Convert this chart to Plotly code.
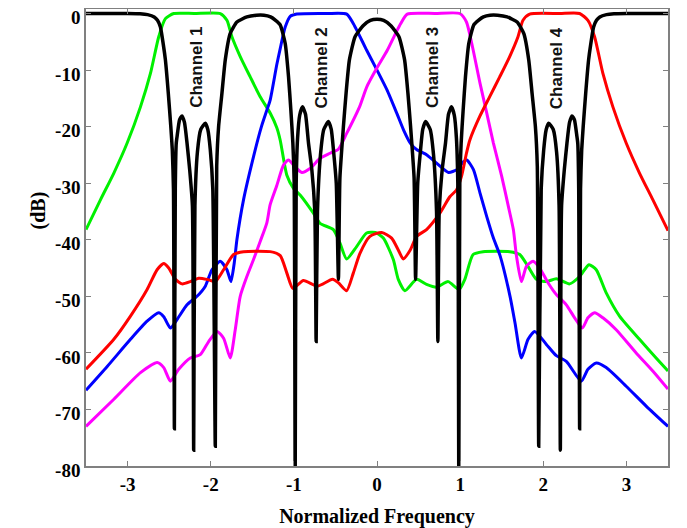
import plotly.graph_objects as go

# ---- data ----
black_x = [-3.5, -3.0, -2.85, -2.76, -2.68, -2.64, -2.605, -2.57, -2.545, -2.51, -2.48, -2.462, -2.448,
           -2.437, -2.426, -2.415, -2.405, -2.375, -2.345, -2.315, -2.285, -2.253, -2.22, -2.205, -2.19,
           -2.16, -2.12, -2.065, -2.035, -2.005, -1.975, -1.945, -1.928, -1.905, -1.865, -1.825, -1.765,
           -1.685, -1.565, -1.45, -1.36, -1.28, -1.22, -1.164, -1.104, -1.064, -1.036, -1.012, -0.996,
           -0.984, -0.972, -0.955, -0.93, -0.896, -0.86, -0.824, -0.784, -0.748, -0.732, -0.716, -0.68,
           -0.64, -0.584, -0.55, -0.524, -0.49, -0.464, -0.446, -0.404, -0.372, -0.332, -0.264, -0.164,
           -0.08, 0.0,
           0.08, 0.164, 0.264, 0.332, 0.372, 0.404, 0.446, 0.464, 0.49, 0.524, 0.55, 0.584, 0.64, 0.68,
           0.716, 0.732, 0.748, 0.784, 0.824, 0.86, 0.896, 0.93, 0.955, 0.972, 0.984, 0.996, 1.012, 1.036,
           1.064, 1.104, 1.164, 1.22, 1.28, 1.36, 1.45, 1.565, 1.685, 1.765, 1.825, 1.865, 1.905, 1.928,
           1.945, 1.975, 2.005, 2.035, 2.065, 2.12, 2.16, 2.19, 2.205, 2.22, 2.253, 2.285, 2.315, 2.345,
           2.375, 2.405, 2.415, 2.426, 2.437, 2.448, 2.462, 2.48, 2.51, 2.545, 2.57, 2.605, 2.64, 2.68,
           2.76, 2.85, 3.0, 3.5]
black_y = [0, 0, -0.05, -0.2, -0.6, -1.2, -2.4, -5.5, -8.2, -14.1, -20, -24.1, -31,
           -73.4, -31, -23, -21.8, -18.8, -18.1, -19.3, -22.9, -27.6, -34, -77.2, -34,
           -24.5, -20.5, -19.4, -20.5, -24.1, -31, -76.5, -27, -20, -14.1, -8.2, -3.5,
           -1.5, -0.6, -0.3, -0.3, -0.6, -1.2, -2.0, -5.3, -11.2, -17.1, -22.9, -30,
           -82, -30, -22, -18, -16.5, -17.8, -22.9, -27.6, -35, -58, -35, -25,
           -20.5, -19.1, -20.5, -24.1, -30, -47, -29, -20, -14.1, -8.2, -4.1, -2.1,
           -1.2, -1.0,
           -1.2, -2.1, -4.1, -8.2, -14.1, -20, -29, -47, -30, -24.1, -20.5, -19.1, -20.5, -25,
           -35, -58, -35, -27.6, -22.9, -17.8, -16.5, -18, -22, -30, -82, -30, -22.9, -17.1,
           -11.2, -5.3, -2.0, -1.2, -0.6, -0.3, -0.3, -0.6, -1.5, -3.5, -8.2, -14.1, -20, -27,
           -76.5, -31, -24.1, -20.5, -19.4, -20.5, -24.5, -34, -77.2, -34, -27.6, -22.9, -19.3, -18.1,
           -18.8, -21.8, -23, -31, -73.4, -31, -24.1, -20, -14.1, -8.2, -5.5, -2.4, -1.2, -0.6,
           -0.2, -0.05, 0, 0]

green_x = [-3.5, -3.325, -3.165, -3.005, -2.845, -2.725, -2.625, -2.545, -2.445, -2.2, -1.885, -1.805,
           -1.745, -1.645, -1.525, -1.405, -1.285, -1.205, -1.164, -1.084, -1.005, -0.925, -0.765,
           -0.685, -0.525, -0.445, -0.365, -0.245, -0.125, -0.02, 0.076, 0.196, 0.256, 0.336, 0.476,
           0.596, 0.716, 0.856, 0.988, 1.056, 1.156, 1.276, 1.597, 1.717, 1.816, 1.917, 2.037, 2.157,
           2.317, 2.437, 2.549, 2.637, 2.757, 2.917, 3.157, 3.357, 3.5]
green_y = [-38.2, -32.9, -28.2, -22.9, -16.5, -10.6, -4.1, -0.9, 0, 0, 0, -1.2,
           -4.1, -7.6, -11.2, -14.7, -17.6, -20.2, -22.4, -28.6, -30.9, -32.1, -35.3,
           -37.1, -38.2, -40.6, -43.4, -41.2, -38.8, -38.7, -39.7, -43.5, -47, -49, -47,
           -47.9, -48.4, -47.4, -48.8, -47, -42.6, -42.1, -42.1, -42.6, -44.7, -47, -47.4, -46.9,
           -47.8, -46.5, -44.4, -45.3, -49.4, -53.5, -57.6, -60.9, -63.2]

blue_x = [-3.5, -3.245, -2.965, -2.765, -2.625, -2.565, -2.485, -2.405, -2.285, -2.165, -2.065, -1.985,
          -1.885, -1.805, -1.757, -1.717, -1.685, -1.605, -1.485, -1.39, -1.325, -1.285, -1.205, -1.164,
          -1.104, -1.044, -0.964, -0.6, -0.364, -0.284, -0.224, -0.124, 0.0, 0.12, 0.24, 0.32, 0.4,
          0.48, 0.6, 0.72, 0.86, 0.96, 1.04, 1.08, 1.16, 1.24, 1.32, 1.4, 1.48, 1.6, 1.66, 1.737,
          1.817, 1.897, 2.037, 2.157, 2.277, 2.457, 2.537, 2.637, 2.757, 2.997, 3.237, 3.5]
blue_y = [-66.6, -62.4, -57.6, -54.4, -52.9, -53.6, -55.6, -54.1, -51.5, -50, -48.2, -45.3,
          -43.8, -45.3, -47.4, -44.1, -40, -32.9, -25.3, -20, -17.1, -15.3, -9, -6.2,
          -2.4, -0.5, -0.1, 0, -0.1, -1.8, -3.5, -6.5, -10, -13.5, -17.7, -20.6, -22.9,
          -24.1, -25, -26.5, -28.1, -27.6, -26.2, -25.9, -27.6, -31.8, -35.9, -39.7, -42.8, -50, -54.7, -60.9,
          -57.6, -56.2, -58.5, -60.5, -61.5, -65, -62.9, -61.8, -62.6, -65.9, -69.4, -73]

magenta_x = [-3.5, -3.165, -2.845, -2.645, -2.565, -2.485, -2.385, -2.245, -2.125, -2.025, -1.925, -1.845,
             -1.765, -1.705, -1.645, -1.565, -1.485, -1.405, -1.325, -1.285, -1.205, -1.125, -1.065,
             -0.985, -0.905, -0.805, -0.685, -0.565, -0.465, -0.365, -0.21, -0.124, 0.0, 0.124, 0.224,
             0.284, 0.364, 0.7, 0.996, 1.076, 1.14, 1.24, 1.32, 1.4, 1.5, 1.58, 1.64, 1.677, 1.737,
             1.797, 1.877, 1.957, 2.057, 2.157, 2.277, 2.377, 2.469, 2.537, 2.617, 2.717, 2.877, 3.117,
             3.317, 3.5]
magenta_y = [-73, -68.2, -63.5, -61.7, -62.6, -65, -62.9, -60.9, -60.3, -58, -56.2, -57.4,
             -60.9, -55.9, -50, -46.5, -43.5, -40.3, -37, -33.8, -30.4, -26.8, -25.9,
             -27.1, -28.1, -27.4, -25.6, -24.7, -24, -21.2, -16.5, -13, -9.6, -6.5, -3.5,
             -1.8, -0.1, 0, 0, -1.5, -5.3, -12.4, -17.6, -22.9, -28.8, -34.1, -38.2, -42.8, -47.4,
             -44.7, -43.8, -45, -47.6, -49.7, -51.5, -53.8, -55.6, -53.8, -52.9, -53.8, -55.9, -60,
             -63.2, -66.4]

red_x = [-3.5, -3.165, -2.965, -2.765, -2.645, -2.565, -2.505, -2.425, -2.345, -2.245, -2.145, -2.045,
         -1.945, -1.845, -1.725, -1.605, -1.285, -1.164, -1.084, -1.012, -0.885, -0.715, -0.535, -0.465,
         -0.365, -0.285, -0.205, -0.085, 0.056, 0.176, 0.256, 0.316, 0.4, 0.476, 0.596, 0.756, 0.876,
         0.956, 1.016, 1.076, 1.116, 1.236, 1.356, 1.476, 1.596, 1.696, 1.756, 1.836, 2.2, 2.437, 2.537,
         2.617, 2.717, 2.837, 2.997, 3.157, 3.317, 3.5]
red_y = [-62.9, -57.6, -53.5, -48.8, -45.3, -44.2, -45, -47, -47.8, -47.4, -46.8, -47,
         -47.4, -45.3, -42.6, -42.1, -42.1, -42.8, -45.9, -48.6, -47.2, -48.2, -47, -47.6,
         -49, -45.9, -42.4, -39.4, -38.7, -39.7, -41.8, -43.4, -41.8, -39.4, -38.2, -35.3, -32.4,
         -31.2, -28.8, -24.7, -22.4, -18.2, -14.7, -11.2, -7.6, -4.1, -1.2, -0.1, 0, 0, -1.2,
         -4.1, -10.6, -16.5, -22.9, -28.2, -32.9, -38.4]

channel_labels = ["Channel 1", "Channel 2", "Channel 3", "Channel 4"]
channel_label_x = [-2.165, -0.664, 0.676, 2.157]
channel_label_y = [-9.6, -9.6, -9.6, -9.6]

x_ticks = [-3, -2, -1, 0, 1, 2, 3]
y_ticks = [-80, -70, -60, -50, -40, -30, -20, -10, 0]

SERIF = "Liberation Serif, Times New Roman, serif"

# ---- figure ----
fig = go.Figure()
series = [
    (green_x, green_y, "#00F000"),
    (blue_x, blue_y, "#0000FF"),
    (magenta_x, magenta_y, "#FF00FF"),
    (red_x, red_y, "#FF0000"),
]
for xs, ys, col in series:
    fig.add_trace(go.Scatter(x=xs, y=ys, mode="lines",
                             line=dict(color=col, width=3, shape="spline", smoothing=0.6),
                             showlegend=False, hoverinfo="skip"))
fig.add_trace(go.Scatter(x=black_x, y=black_y, mode="lines",
                         line=dict(color="#000000", width=3.5, shape="spline", smoothing=0.5),
                         showlegend=False, hoverinfo="skip"))

for txt, lx, ly in zip(channel_labels, channel_label_x, channel_label_y):
    fig.add_annotation(x=lx, y=ly, text="<b>%s</b>" % txt, textangle=-90, showarrow=False,
                       font=dict(family="Liberation Sans, Arial", size=17, color="#111111"))

fig.add_annotation(xref="paper", yref="paper", x=-0.105, y=0.56, text="<b>(dB)</b>",
                   textangle=-90, showarrow=False,
                   font=dict(family=SERIF, size=20, color="#000000"))

axis_common = dict(showline=True, linecolor="#808080", linewidth=1.5, mirror="ticks",
                   ticks="inside", ticklen=5, tickcolor="#808080", showgrid=False, zeroline=False,
                   automargin=False, ticklabeloverflow="allow",
                   tickfont=dict(family=SERIF, size=19, color="#000000"))

fig.update_xaxes(range=[-3.5, 3.5], tickvals=x_ticks, ticktext=[f"<b>{v}</b>" for v in x_ticks],
                 title=dict(text="<b>Normalized Frequency</b>", standoff=17,
                            font=dict(family=SERIF, size=20, color="#000000")),
                 **axis_common)
fig.update_yaxes(range=[-80, 0.8], tickvals=y_ticks, ticktext=[f"<b>{v}</b>" for v in y_ticks],
                 ticklabelstandoff=0, ticklabelshift=4, **axis_common)

# the page body adds an 8 px offset, so the figure is 8 px smaller and margins are shifted
fig.update_layout(width=679, height=520, margin=dict(l=78, r=19, t=1, b=62),
                  plot_bgcolor="white", paper_bgcolor="white")

fig.write_html("out.html")
